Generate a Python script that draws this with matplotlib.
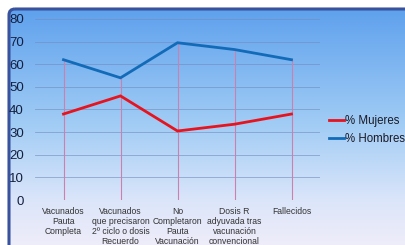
import numpy as np
from matplotlib import pyplot as plt
from matplotlib.patches import FancyBboxPatch
import matplotlib.colors as mcolors

plt.rcParams['font.family'] = ['Liberation Sans', 'DejaVu Sans']

#### DATA ####
categories = ['Vacunados\nPauta\nCompleta',
              'Vacunados\nque precisaron\n2º ciclo o dosis\nRecuerdo',
              'No\nCompletaron\nPauta\nVacunación',
              'Dosis R\nadyuvada tras\nvacunación\nconvencional',
              'Fallecidos']
mujeres = [38, 46, 30.5, 33.5, 38]
hombres = [62, 54, 69.5, 66.5, 62]
series_names = ['% Mujeres', '% Hombres']
yticks = [0, 10, 20, 30, 40, 50, 60, 70, 80]

W, H = 405, 245
fig = plt.figure(figsize=(W/100, H/100), dpi=100)
fig.patch.set_facecolor('white')

#### BACKGROUND GRADIENT + FRAME ####
bg = fig.add_axes([0, 0, 1, 1], zorder=-10)
cmap = mcolors.LinearSegmentedColormap.from_list(
    'bg', [(0.0, (0.37, 0.63, 0.93)),
           (0.45, (0.63, 0.80, 0.96)),
           (0.75, (0.86, 0.90, 0.98)),
           (1.0, (0.97, 0.94, 0.98))])
grad = np.linspace(0, 1, 256).reshape(-1, 1)
im = bg.imshow(grad, cmap=cmap, aspect='auto', extent=[9, W + 20, H + 20, 9])
box = FancyBboxPatch((9, 9), W + 10, H + 10,
                     boxstyle='round,pad=0,rounding_size=6',
                     facecolor='none', edgecolor=(0.22, 0.32, 0.62), lw=2.2)
bg.add_patch(box)
im.set_clip_path(box)
bg.set_xlim(0, W)
bg.set_ylim(H, 0)
bg.axis('off')

#### CHART ####
ax = fig.add_axes([35/W, 1 - 200/H, 285/W, 181/H])
ax.patch.set_alpha(0)
x = np.arange(len(categories))

ax.vlines(x, 0, np.maximum(mujeres, hombres), color=(0.80, 0.50, 0.68),
          lw=0.8, zorder=1)
for yv in yticks:
    ax.axhline(yv, color=(0.45, 0.55, 0.75) if yv else (0.55, 0.58, 0.65),
               lw=0.6, alpha=0.7, zorder=0)

ax.plot(x, mujeres, color=(0.90, 0.08, 0.12), lw=2.0, label=series_names[0],
        zorder=3, solid_joinstyle='miter')
ax.plot(x, hombres, color=(0.07, 0.42, 0.72), lw=2.0, label=series_names[1],
        zorder=3, solid_joinstyle='miter')

ax.set_xlim(-0.5, len(categories) - 0.5)
ax.set_ylim(0, 80)
ax.set_yticks(yticks)
ax.set_xticks(x)
ax.set_xticklabels(categories, fontsize=6.2, color=(0.2, 0.2, 0.2),
                   linespacing=1.15, va='top')
ax.tick_params(axis='y', length=0, pad=8, labelsize=9.5,
               labelcolor=(0.08, 0.12, 0.25))
ax.tick_params(axis='x', length=0, pad=5)
for s in ax.spines.values():
    s.set_visible(False)

leg = ax.legend(loc='center left', bbox_to_anchor=(329/W, 1 - 130/H),
                bbox_transform=fig.transFigure, frameon=False,
                fontsize=8.3, handlelength=1.3, handletextpad=0.1,
                labelspacing=0.6, borderpad=0, borderaxespad=0)
for t in leg.get_texts():
    t.set_color((0.1, 0.1, 0.15))

plt.savefig('out.png', dpi=100)
